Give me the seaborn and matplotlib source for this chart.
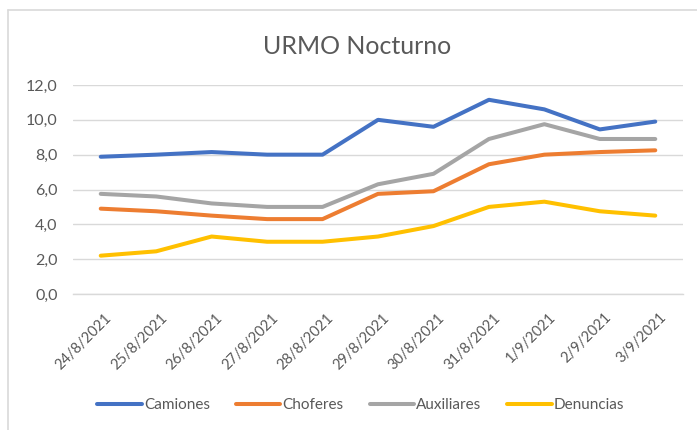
import pandas as pd
import matplotlib.pyplot as plt
import matplotlib.transforms as mtransforms
import seaborn as sns
from matplotlib.ticker import FuncFormatter, FixedLocator
from matplotlib.lines import Line2D

fechas = ['24/8/2021', '25/8/2021', '26/8/2021', '27/8/2021', '28/8/2021', '29/8/2021',
          '30/8/2021', '31/8/2021', '1/9/2021', '2/9/2021', '3/9/2021']
camiones = [7.88, 8.0, 8.15, 8.0, 8.0, 10.0, 9.6, 11.15, 10.6, 9.45, 9.9]
choferes = [4.9, 4.75, 4.5, 4.3, 4.3, 5.75, 5.9, 7.45, 8.0, 8.15, 8.25]
auxiliares = [5.75, 5.6, 5.2, 5.0, 5.0, 6.3, 6.9, 8.9, 9.75, 8.9, 8.9]
denuncias = [2.2, 2.45, 3.3, 3.0, 3.0, 3.3, 3.9, 5.0, 5.3, 4.75, 4.5]

series = ['Camiones', 'Choferes', 'Auxiliares', 'Denuncias']
colores = ['#4472C4', '#ED7D31', '#A5A5A5', '#FFC000']

df = pd.DataFrame({'fecha': fechas, 'Camiones': camiones, 'Choferes': choferes,
                   'Auxiliares': auxiliares, 'Denuncias': denuncias})
df = df.melt(id_vars='fecha', var_name='serie', value_name='valor')

sns.set_style('white')
plt.rcParams['font.family'] = ['Lato', 'DejaVu Sans']

fig = plt.figure(figsize=(6.97, 4.30), dpi=100)
ax = fig.add_axes([73 / 697, 1 - 294 / 430, 610 / 697, 209 / 430])

sns.lineplot(data=df, x='fecha', y='valor', hue='serie', hue_order=series,
             palette=colores, linewidth=2.9, sort=False, ax=ax, legend=False)

n = len(fechas)
ax.set_xlim(-0.5, n - 0.5)
ax.set_ylim(0, 12)
ax.set_yticks(range(0, 13, 2))
ax.yaxis.set_major_formatter(FuncFormatter(lambda v, p: f'{v:.1f}'.replace('.', ',')))
ax.grid(axis='y', color='#d9d9d9', linewidth=1)
ax.set_axisbelow(True)
ax.set_xlabel('')
ax.set_ylabel('')

for s in ['top', 'right', 'left']:
    ax.spines[s].set_visible(False)
ax.spines['bottom'].set_color('#d9d9d9')
ax.spines['bottom'].set_linewidth(1)

ax.set_xticks(range(n))
ax.set_xticklabels(fechas, rotation=45, ha='right', rotation_mode='anchor')
ax.xaxis.set_minor_locator(FixedLocator([i - 0.5 for i in range(n + 1)]))
ax.tick_params(axis='x', which='major', length=0, pad=12, labelsize=10.5, labelcolor='#595959')
ax.tick_params(axis='x', which='minor', length=5, color='#d9d9d9', width=1, direction='out')
ax.tick_params(axis='y', length=0, pad=11, labelsize=11.5, labelcolor='#595959')

shift = mtransforms.ScaledTranslation(4 / 100, 0, fig.dpi_scale_trans)
for lbl in ax.get_xticklabels():
    lbl.set_transform(lbl.get_transform() + shift)

fig.text(0.512, 1 - 46 / 430, 'URMO Nocturno', ha='center', va='center',
         fontsize=18, color='#595959')

handles = [Line2D([], [], color=c, linewidth=2.9) for c in colores]
fig.legend(handles, series, loc='center', bbox_to_anchor=(361 / 697, 1 - 405 / 430), ncol=4,
           frameon=False, handlelength=2.9, handletextpad=0.15, columnspacing=1.7,
           fontsize=11, labelcolor='#595959')

# chart frame edges
fig.add_artist(Line2D([8 / 697, 1], [1 - 10 / 430, 1 - 10 / 430], color='#d9d9d9', linewidth=1.2))
fig.add_artist(Line2D([8 / 697, 8 / 697], [0, 1 - 10 / 430], color='#d9d9d9', linewidth=1.2))

fig.savefig('out.png', dpi=100)
